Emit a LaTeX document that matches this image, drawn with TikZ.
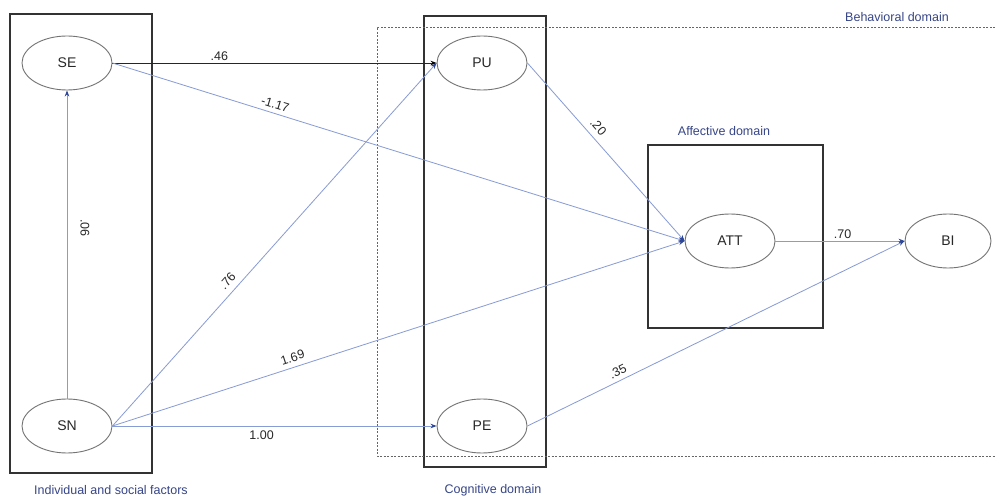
\documentclass[tikz,border=0pt]{standalone}
\usepackage{fontspec}
\setmainfont{Liberation Sans}
\usetikzlibrary{arrows.meta,shapes.geometric}
\definecolor{linkblue}{RGB}{135,155,212}
\definecolor{tipblue}{RGB}{45,70,150}
\definecolor{domblue}{RGB}{55,70,135}
\definecolor{txt}{RGB}{40,40,40}
\begin{document}
\begin{tikzpicture}[x=1pt,y=-1pt,
  latent/.style={draw=black!55, line width=0.9pt, ellipse, minimum width=90pt, minimum height=54pt, inner sep=0pt, font=\fontsize{14}{16}\selectfont, text=txt},
  bluepath/.style={draw=linkblue, line width=0.8pt, -{Stealth[length=6pt,width=4.5pt,color=tipblue]}},
  blackpath/.style={draw=black!85, line width=0.9pt, -{Stealth[length=6pt,width=4.5pt,color=black]}},
  coef/.style={font=\fontsize{12.5}{14}\selectfont, text=txt, inner sep=1pt},
  domlabel/.style={font=\fontsize{12.5}{14}\selectfont, text=domblue, inner sep=0pt},
  frame/.style={draw=black!80, line width=1.1pt},
  dashframe/.style={draw=black!60, line width=0.6pt, dash pattern=on 2pt off 1.5pt}
]
\useasboundingbox (0,0) rectangle (995,502);
\fill[white] (0,0) rectangle (995,502);

% frames
\draw[frame] (10,14) rectangle (152,473);
\draw[frame] (424,16) rectangle (546,467);
\draw[frame] (648,145) rectangle (823,328);
\draw[dashframe] (995,27) -- (377,27) -- (377,456) -- (995,456);

% domain labels
\node[domlabel] (lind) at (111,490) {Individual and social factors};
\node[domlabel] (lcog) at (493,490) {Cognitive domain};
\node[domlabel] (laff) at (724,131) {Affective domain};
\node[domlabel] (lbeh) at (897,17) {Behavioral domain};

% latent variables
\node[latent] (se) at (67,63) {SE};
\node[latent] (sn) at (67,426) {SN};
\node[latent] (pu) at (482,63) {PU};
\node[latent] (pe) at (482,426) {PE};
\node[latent] (att) at (730,241) {ATT};
\node[latent, minimum width=86pt] (bi) at (948,241) {BI};

% paths
\draw[blackpath] (se.east) -- node[coef, pos=0.33, above=1pt] (c46) {.46} (pu.west);
\draw[bluepath] (se.east) -- node[coef, pos=0.28, above=3pt, sloped] (c117) {-1.17} (att.west);
\draw[bluepath] (sn.north) -- node[coef, pos=0.553, xshift=18pt, rotate=-90] (c06) {.06} (se.south);
\draw[bluepath] (sn.east) -- node[coef, pos=0.38, above=5pt, sloped] (c76) {.76} (pu.west);
\draw[bluepath] (sn.east) -- node[coef, pos=0.32, above=4pt, sloped] (c169) {1.69} (att.west);
\draw[bluepath] (sn.east) -- node[coef, pos=0.46, below=3pt] (c100) {1.00} (pe.west);
\draw[bluepath] (pu.east) -- node[coef, pos=0.40, above=5pt, sloped] (c20) {.20} (att.west);
\draw[bluepath] (att.east) -- node[coef, pos=0.52, above=1pt] (c70) {.70} (bi.west);
\draw[bluepath] (pe.east) -- node[coef, pos=0.25, above=3pt, sloped] (c35) {.35} (bi.west);
\end{tikzpicture}
\end{document}
